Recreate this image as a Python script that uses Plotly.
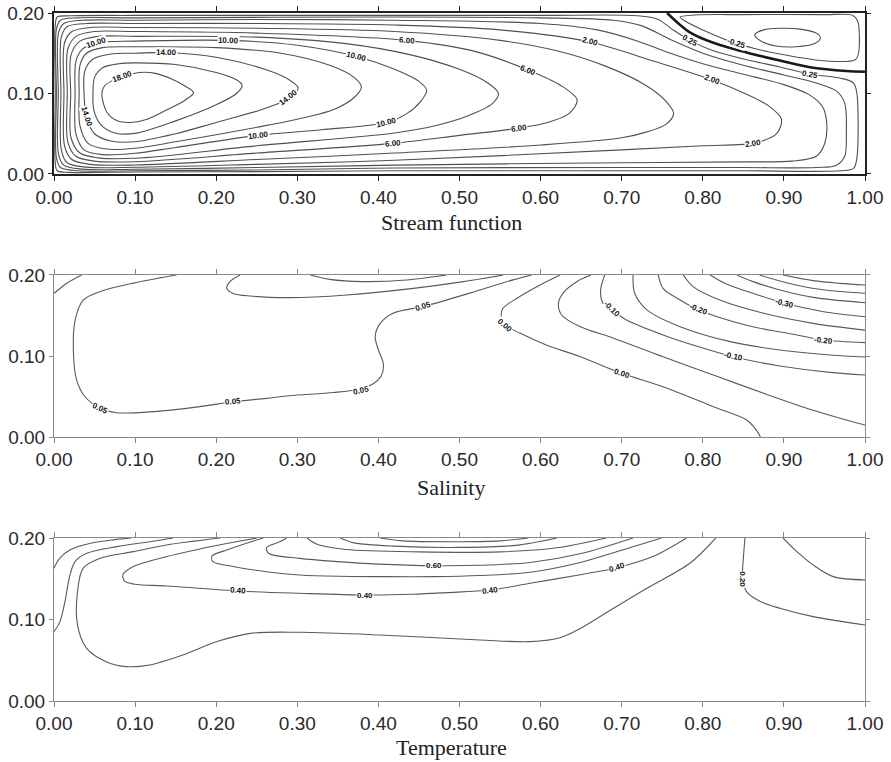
import plotly.graph_objects as go

# ---------------- Stream function (panel 1): contour lines as (x, y) points ----------------
psi_p025 = [(0.0015,0.10),(0.0015,0.185),(0.004,0.195),(0.02,0.1965),(0.1,0.197),(0.4,0.197),(0.6,0.197),(0.72,0.1965),(0.745,0.192),(0.762,0.180),(0.784,0.166),(0.813,0.153),(0.854,0.142),(0.895,0.133),(0.932,0.124),(0.97,0.119),(0.986,0.113),(0.99,0.10),(0.99,0.02),(0.986,0.007),(0.97,0.004),(0.85,0.004),(0.7,0.004),(0.42,0.004),(0.25,0.003),(0.1,0.0025),(0.02,0.002),(0.004,0.004),(0.0015,0.015),(0.0015,0.10)]
psi_p05 = [(0.003,0.10),(0.003,0.18),(0.008,0.191),(0.03,0.194),(0.1,0.194),(0.42,0.195),(0.6,0.194),(0.69,0.191),(0.725,0.184),(0.76,0.167),(0.8,0.150),(0.85,0.135),(0.9,0.123),(0.94,0.113),(0.965,0.103),(0.975,0.088),(0.977,0.05),(0.975,0.022),(0.965,0.011),(0.94,0.008),(0.85,0.008),(0.7,0.008),(0.42,0.0075),(0.25,0.005),(0.1,0.0041),(0.03,0.004),(0.008,0.008),(0.003,0.02),(0.003,0.10)]
psi_p1 = [(0.0053,0.10),(0.0055,0.175),(0.012,0.187),(0.035,0.191),(0.1,0.191),(0.25,0.192),(0.42,0.191),(0.6,0.187),(0.67,0.179),(0.72,0.165),(0.76,0.150),(0.8,0.137),(0.85,0.124),(0.9,0.111),(0.932,0.098),(0.948,0.083),(0.953,0.06),(0.95,0.037),(0.94,0.022),(0.91,0.016),(0.85,0.015),(0.7,0.014),(0.42,0.011),(0.25,0.008),(0.1,0.0058),(0.035,0.006),(0.012,0.011),(0.0055,0.025),(0.0053,0.10)]
psi_p2 = [(0.0086,0.10),(0.009,0.17),(0.016,0.183),(0.04,0.187),(0.1,0.187),(0.25,0.187),(0.42,0.185),(0.55,0.179),(0.661,0.164),(0.74,0.140),(0.811,0.117),(0.854,0.099),(0.882,0.084),(0.897,0.068),(0.891,0.050),(0.866,0.039),(0.8,0.035),(0.7,0.030),(0.42,0.017),(0.25,0.012),(0.1,0.0083),(0.04,0.0085),(0.016,0.014),(0.009,0.03),(0.0086,0.10)]
psi_p4 = [(0.0123,0.10),(0.013,0.163),(0.022,0.177),(0.045,0.182),(0.1,0.182),(0.25,0.181),(0.42,0.177),(0.55,0.166),(0.62,0.153),(0.68,0.134),(0.73,0.110),(0.755,0.090),(0.764,0.075),(0.755,0.062),(0.73,0.052),(0.7,0.045),(0.6,0.036),(0.42,0.026),(0.25,0.018),(0.1,0.0112),(0.045,0.012),(0.022,0.018),(0.013,0.035),(0.0123,0.10)]
psi_p6 = [(0.0164,0.10),(0.017,0.155),(0.027,0.171),(0.05,0.177),(0.1,0.177),(0.25,0.175),(0.435,0.166),(0.52,0.152),(0.585,0.129),(0.625,0.110),(0.645,0.092),(0.635,0.075),(0.605,0.063),(0.573,0.057),(0.5,0.048),(0.418,0.038),(0.25,0.026),(0.1,0.0153),(0.05,0.016),(0.027,0.022),(0.017,0.04),(0.0164,0.10)]
psi_p8 = [(0.0206,0.10),(0.021,0.148),(0.032,0.165),(0.055,0.171),(0.1,0.171),(0.25,0.170),(0.36,0.162),(0.44,0.148),(0.50,0.130),(0.535,0.113),(0.548,0.100),(0.54,0.087),(0.51,0.072),(0.47,0.060),(0.42,0.051),(0.25,0.035),(0.1,0.0195),(0.055,0.020),(0.032,0.026),(0.021,0.045),(0.0206,0.10)]
psi_p10 = [(0.026,0.10),(0.027,0.14),(0.035,0.155),(0.053,0.163),(0.1,0.165),(0.215,0.166),(0.30,0.160),(0.373,0.146),(0.42,0.130),(0.45,0.115),(0.4595,0.104),(0.452,0.090),(0.435,0.075),(0.41,0.064),(0.33,0.055),(0.252,0.048),(0.15,0.033),(0.1,0.0257),(0.06,0.024),(0.037,0.03),(0.027,0.05),(0.026,0.10)]
psi_p12 = [(0.031,0.10),(0.032,0.135),(0.04,0.150),(0.06,0.157),(0.1,0.158),(0.2,0.157),(0.28,0.150),(0.34,0.135),(0.37,0.120),(0.379,0.108),(0.37,0.095),(0.345,0.080),(0.30,0.068),(0.25,0.058),(0.15,0.040),(0.1,0.032),(0.065,0.031),(0.042,0.038),(0.032,0.06),(0.031,0.10)]
psi_p14 = [(0.037,0.10),(0.038,0.128),(0.047,0.142),(0.07,0.149),(0.1,0.150),(0.139,0.151),(0.2,0.145),(0.26,0.130),(0.29,0.117),(0.301,0.107),(0.292,0.095),(0.27,0.085),(0.25,0.078),(0.2,0.064),(0.15,0.050),(0.1,0.040),(0.07,0.041),(0.05,0.05),(0.040,0.071),(0.037,0.10)]
psi_p16 = [(0.048,0.10),(0.05,0.12),(0.06,0.132),(0.08,0.137),(0.1,0.138),(0.15,0.136),(0.2,0.126),(0.225,0.117),(0.232,0.110),(0.225,0.100),(0.2,0.086),(0.15,0.066),(0.1,0.0505),(0.075,0.051),(0.057,0.062),(0.049,0.08),(0.048,0.10)]
psi_p18 = [(0.059,0.099),(0.062,0.109),(0.072,0.116),(0.085,0.121),(0.105,0.126),(0.125,0.125),(0.145,0.118),(0.162,0.109),(0.172,0.101),(0.162,0.092),(0.14,0.080),(0.115,0.068),(0.095,0.064),(0.078,0.066),(0.065,0.077),(0.059,0.099)]
psi_zero = [(0.756,0.200),(0.770,0.187),(0.784,0.176),(0.813,0.163),(0.854,0.151),(0.895,0.141),(0.936,0.132),(0.977,0.128),(1.0,0.127)]
psi_m025 = [(0.772,0.195),(0.79,0.1975),(0.85,0.198),(0.95,0.198),(0.985,0.197),(0.991,0.19),(0.992,0.15),(0.988,0.142),(0.957,0.140),(0.895,0.149),(0.842,0.162),(0.80,0.179),(0.778,0.190),(0.772,0.195)]
psi_m05 = [(0.864,0.173),(0.875,0.179),(0.895,0.181),(0.92,0.180),(0.94,0.175),(0.945,0.169),(0.938,0.162),(0.915,0.158),(0.89,0.159),(0.872,0.165),(0.864,0.173)]

psi_label_text = ["10.00","14.00","10.00","18.00","14.00","14.00","10.00","10.00","10.00","6.00","6.00","6.00","6.00","2.00","2.00","2.00","0.25","-0.25","0.25"]
psi_label_x = [0.053,0.139,0.215,0.085,0.040,0.289,0.252,0.373,0.41,0.435,0.585,0.573,0.418,0.661,0.811,0.862,0.784,0.842,0.932]
psi_label_y = [0.163,0.151,0.166,0.121,0.071,0.095,0.048,0.146,0.064,0.166,0.129,0.057,0.038,0.164,0.117,0.0385,0.166,0.162,0.124]
psi_label_angle = [-18,1,2,-20,72,-38,-7,14,-14,5,22,-8,-5,14,20,-8,28,18,11]

# ---------------- Salinity (panel 2) ----------------
sal_corner = [(0.0,0.1775),(0.005,0.1815),(0.0156,0.1897),(0.034,0.2)]
sal_p005 = [(0.151,0.2),(0.098,0.19),(0.057,0.1795),(0.036,0.169),(0.026,0.144),(0.024,0.103),(0.028,0.070),(0.038,0.050),(0.057,0.0354),(0.077,0.030),(0.118,0.031),(0.18,0.0375),(0.221,0.0436),(0.262,0.0477),(0.29,0.051),(0.345,0.055),(0.375,0.059),(0.394,0.066),(0.404,0.0765),(0.406,0.091),(0.40,0.1074),(0.396,0.124),(0.402,0.140),(0.418,0.1528),(0.455,0.161),(0.484,0.169),(0.525,0.1815),(0.566,0.194),(0.589,0.2)]
sal_p010 = [(0.2293,0.2),(0.217,0.1918),(0.213,0.1835),(0.221,0.1773),(0.242,0.174),(0.29,0.172),(0.361,0.1753),(0.443,0.1835),(0.505,0.1918),(0.554,0.2)]
sal_p015 = [(0.316,0.2),(0.340,0.1946),(0.381,0.1918),(0.435,0.1938),(0.484,0.2)]
sal_000 = [(0.624,0.2),(0.60,0.188),(0.572,0.172),(0.553,0.158),(0.552,0.146),(0.556,0.1383),(0.575,0.128),(0.607,0.1136),(0.649,0.0992),(0.700,0.0786),(0.751,0.062),(0.813,0.0374),(0.854,0.021),(0.866,0.0086),(0.871,0.0)]
sal_m005 = [(0.662,0.2),(0.645,0.192),(0.628,0.178),(0.622,0.165),(0.626,0.1506),(0.649,0.136),(0.690,0.122),(0.751,0.099),(0.813,0.0765),(0.875,0.054),(0.936,0.033),(0.977,0.021),(1.0,0.0148)]
sal_m010 = [(0.679,0.200),(0.674,0.181),(0.677,0.165),(0.688,0.157),(0.706,0.1444),(0.751,0.126),(0.792,0.1123),(0.838,0.099),(0.895,0.0876),(0.957,0.0798),(1.0,0.0765)]
sal_m015 = [(0.714,0.200),(0.716,0.1774),(0.731,0.157),(0.772,0.1362),(0.834,0.1177),(0.895,0.1074),(0.957,0.1012),(1.0,0.0988)]
sal_m020 = [(0.745,0.200),(0.751,0.1835),(0.772,0.1691),(0.795,0.1568),(0.854,0.138),(0.916,0.126),(0.949,0.1197),(1.0,0.1165)]
sal_m025 = [(0.776,0.2),(0.788,0.1856),(0.821,0.169),(0.875,0.1527),(0.936,0.1403),(1.0,0.132)]
sal_m030 = [(0.809,0.2),(0.829,0.1889),(0.862,0.1774),(0.901,0.165),(0.949,0.1547),(1.0,0.1485)]
sal_m035 = [(0.842,0.2),(0.862,0.1918),(0.895,0.1815),(0.936,0.1724),(1.0,0.1658)]
sal_m040 = [(0.870,0.2),(0.903,0.1905),(0.944,0.1823),(1.0,0.1774)]
sal_m045 = [(0.899,0.2),(0.936,0.193),(0.969,0.1897),(1.0,0.1877)]

sal_label_text = ["0.05","0.05","0.05","0.05","0.00","0.00","-0.10","-0.10","-0.20","-0.20","-0.30"]
sal_label_x = [0.057,0.221,0.379,0.455,0.556,0.700,0.688,0.838,0.795,0.949,0.901]
sal_label_y = [0.0354,0.0436,0.058,0.161,0.138,0.0786,0.157,0.099,0.157,0.1197,0.165]
sal_label_angle = [25,-6,-12,-18,40,18,45,12,22,6,14]

# ---------------- Temperature (panel 3) ----------------
tem_a = [(0.0,0.163),(0.007,0.175),(0.02,0.1855),(0.045,0.1935),(0.075,0.198),(0.095,0.2)]
tem_b = [(0.0,0.0851),(0.0074,0.0974),(0.0135,0.1219),(0.0197,0.1546),(0.026,0.171),(0.0403,0.1812),(0.0773,0.1894),(0.1184,0.1955),(0.147,0.2)]
tem_030 = [(0.205,0.2),(0.139,0.1915),(0.098,0.1833),(0.057,0.1751),(0.036,0.163),(0.029,0.134),(0.029,0.093),(0.04,0.065),(0.065,0.048),(0.0896,0.0422),(0.118,0.0442),(0.159,0.0565),(0.201,0.0729),(0.242,0.083),(0.303,0.0843),(0.402,0.081),(0.525,0.0749),(0.587,0.0729),(0.625,0.078),(0.649,0.089),(0.690,0.1138),(0.731,0.1383),(0.784,0.169),(0.816,0.2)]
tem_040 = [(0.250,0.2),(0.221,0.1947),(0.180,0.1866),(0.139,0.1772),(0.098,0.165),(0.085,0.155),(0.087,0.147),(0.1,0.1432),(0.139,0.1412),(0.227,0.135),(0.303,0.1322),(0.3835,0.1301),(0.443,0.131),(0.484,0.133),(0.538,0.1362),(0.587,0.1444),(0.649,0.155),(0.694,0.1636),(0.74,0.178),(0.780,0.2)]
tem_050 = [(0.258,0.2),(0.246,0.1964),(0.213,0.1853),(0.195,0.178),(0.196,0.171),(0.221,0.165),(0.262,0.1587),(0.303,0.1547),(0.35,0.153),(0.40,0.1526),(0.468,0.1526),(0.525,0.154),(0.587,0.158),(0.649,0.17),(0.70,0.185),(0.749,0.2)]
tem_060 = [(0.287,0.2),(0.279,0.1956),(0.262,0.188),(0.265,0.181),(0.303,0.175),(0.35,0.171),(0.40,0.168),(0.468,0.166),(0.525,0.1665),(0.587,0.17),(0.65,0.181),(0.714,0.2)]
tem_070 = [(0.312,0.2),(0.325,0.192),(0.36,0.186),(0.45,0.183),(0.55,0.183),(0.62,0.188),(0.681,0.2)]
tem_080 = [(0.353,0.2),(0.37,0.194),(0.42,0.19),(0.5,0.1885),(0.57,0.191),(0.62,0.2)]
tem_090 = [(0.402,0.2),(0.43,0.1965),(0.5,0.1955),(0.55,0.1965),(0.585,0.2)]
tem_020 = [(0.852,0.2),(0.850,0.175),(0.849,0.150),(0.854,0.1342),(0.871,0.122),(0.895,0.1138),(0.936,0.1035),(1.0,0.0933)]
tem_010 = [(0.899,0.2),(0.916,0.1833),(0.936,0.167),(0.961,0.1526),(1.0,0.1485)]

tem_label_text = ["0.40","0.40","0.40","0.60","0.40","0.20"]
tem_label_x = [0.227,0.3835,0.538,0.468,0.694,0.849]
tem_label_y = [0.135,0.130,0.1362,0.166,0.1636,0.150]
tem_label_angle = [3,0,-7,0,-18,90]

x_ticks = [0.0,0.1,0.2,0.3,0.4,0.5,0.6,0.7,0.8,0.9,1.0]
y_ticks = [0.0,0.1,0.2]
titles = ["Stream function", "Salinity", "Temperature"]

# ---------------- figure ----------------
fig = go.Figure()

def add_lines(lines, xa, ya, color, width=1.1):
    for pts in lines:
        fig.add_trace(go.Scatter(
            x=[p[0] for p in pts], y=[p[1] for p in pts], mode="lines",
            xaxis=xa, yaxis=ya, hoverinfo="skip", showlegend=False,
            line=dict(color=color, width=width, shape="spline", smoothing=0.9)))

add_lines([psi_p025, psi_p05, psi_p1, psi_p2, psi_p4, psi_p6, psi_p8, psi_p10,
           psi_p12, psi_p14, psi_p16, psi_p18, psi_m025, psi_m05], "x", "y", "#505050")
add_lines([psi_zero], "x", "y", "#1a1a1a", 2.6)
add_lines([sal_corner, sal_p005, sal_p010, sal_p015, sal_000, sal_m005, sal_m010,
           sal_m015, sal_m020, sal_m025, sal_m030, sal_m035, sal_m040, sal_m045], "x2", "y2", "#5a5a5a")
add_lines([tem_a, tem_b, tem_030, tem_040, tem_050, tem_060, tem_070, tem_080,
           tem_090, tem_020, tem_010], "x3", "y3", "#5a5a5a")

annotations = []
def add_labels(texts, xs, ys, angs, xr, yr):
    for t, x, y, a in zip(texts, xs, ys, angs):
        annotations.append(dict(text="<b>" + t + "</b>", x=x, y=y, xref=xr, yref=yr, showarrow=False,
                                textangle=a, bgcolor="white", borderpad=0,
                                font=dict(family="Liberation Sans", size=8, color="#111")))

add_labels(psi_label_text, psi_label_x, psi_label_y, psi_label_angle, "x", "y")
add_labels(sal_label_text, sal_label_x, sal_label_y, sal_label_angle, "x2", "y2")
add_labels(tem_label_text, tem_label_x, tem_label_y, tem_label_angle, "x3", "y3")

title_y = [0.6962, 0.3096, -0.0683]
for t, ty in zip(titles, title_y):
    annotations.append(dict(text=t, x=0.49, y=ty, xref="paper", yref="paper", showarrow=False,
                            xanchor="center", yanchor="middle",
                            font=dict(family="Liberation Serif", size=22, color="#222")))

tickfont = dict(family="Liberation Sans", size=19, color="#2a2a2a")

def xaxis(anchor, lc, lw):
    return dict(domain=[0, 1], anchor=anchor, range=[0, 1], tickvals=x_ticks, tickformat=".2f",
                ticks="outside", ticklen=5, tickcolor=lc, showline=True, linecolor=lc, linewidth=lw,
                mirror="ticks", showgrid=False, zeroline=False, tickfont=tickfont, automargin=False)

def yaxis(anchor, dom, lc, lw):
    return dict(domain=dom, anchor=anchor, range=[0, 0.2], tickvals=y_ticks, tickformat=".2f",
                ticks="outside", ticklen=4, tickcolor=lc, showline=True, linecolor=lc, linewidth=lw,
                mirror="ticks", showgrid=False, zeroline=False, tickfont=tickfont, automargin=False)

fig.update_layout(
    width=891, height=762, autosize=False,
    margin=dict(l=54, r=26, t=13, b=61, autoexpand=False),
    paper_bgcolor="white", plot_bgcolor="white",
    showlegend=False,
    xaxis=xaxis("y", "#222", 2),
    yaxis=yaxis("x", [0.7660, 1.0], "#222", 2),
    xaxis2=xaxis("y2", "#8a8a8a", 1),
    yaxis2=yaxis("x2", [0.3837, 0.6192], "#8a8a8a", 1),
    xaxis3=xaxis("y3", "#8a8a8a", 1),
    yaxis3=yaxis("x3", [0.0, 0.2369], "#8a8a8a", 1),
    annotations=annotations,
)

fig.write_html("out.html", config={"responsive": False, "displayModeBar": False},
               post_script="document.body.style.margin='0';document.body.style.overflow='hidden';")
